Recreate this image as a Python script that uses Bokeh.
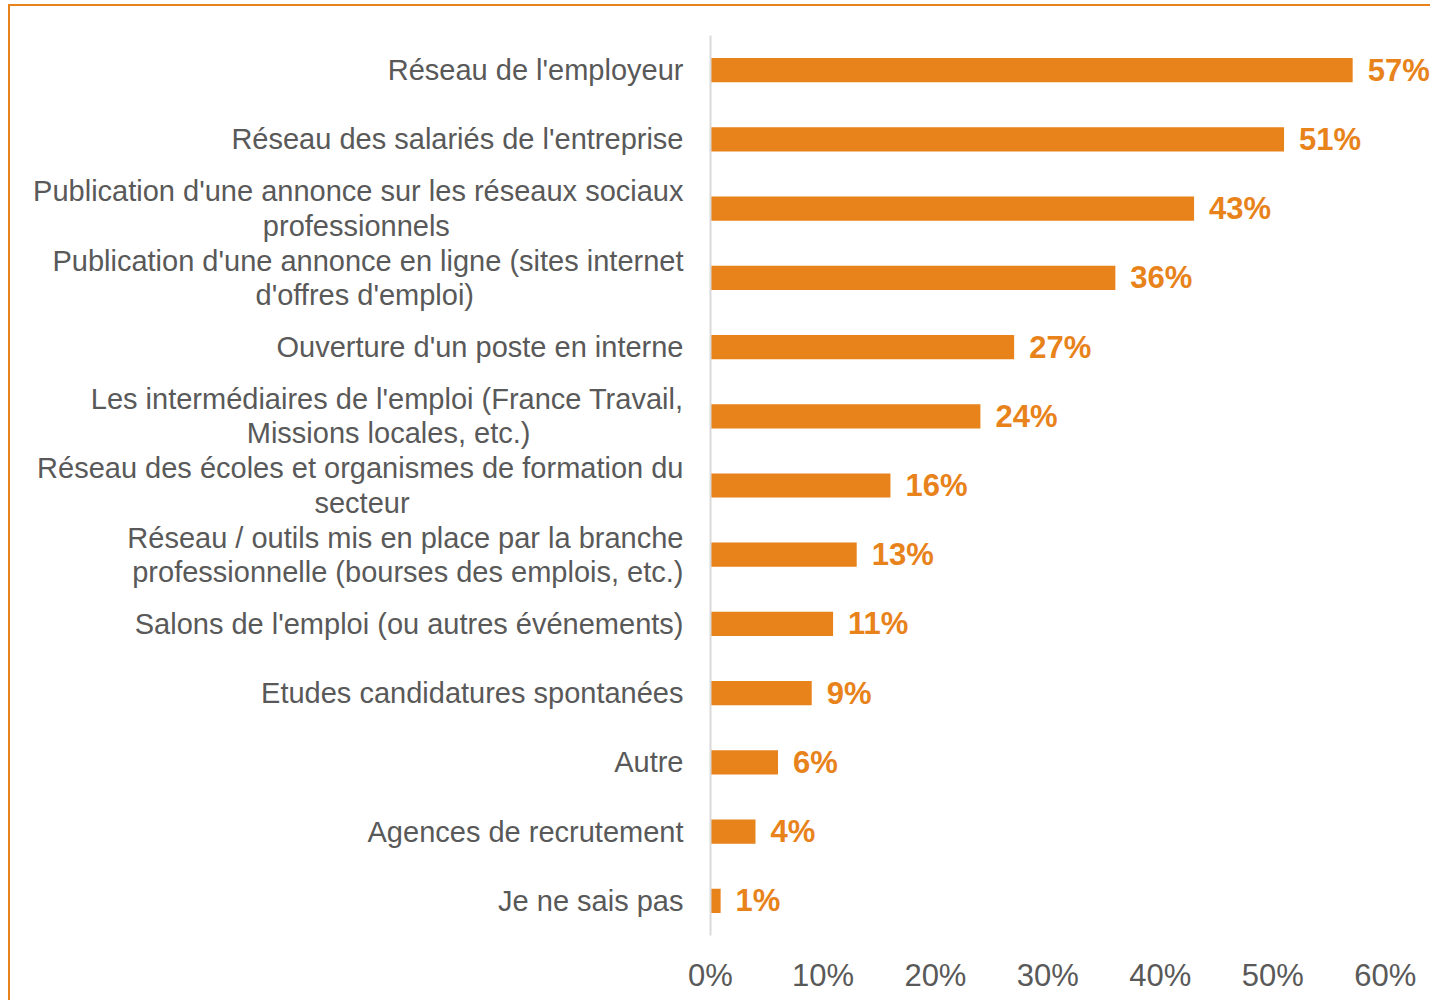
from bokeh.plotting import figure
from bokeh.models import ColumnDataSource, FixedTicker, FactorRange
from bokeh.core.properties import value
from bokeh.embed import file_html
from bokeh.resources import INLINE

categories = [
    "Réseau de l'employeur",
    "Réseau des salariés de l'entreprise",
    "Publication d'une annonce sur les réseaux sociaux\nprofessionnels",
    "Publication d'une annonce en ligne (sites internet\nd'offres d'emploi)",
    "Ouverture d'un poste en interne",
    "Les intermédiaires de l'emploi (France Travail,\nMissions locales, etc.)",
    "Réseau des écoles et organismes de formation du\nsecteur",
    "Réseau / outils mis en place par la branche\nprofessionnelle (bourses des emplois, etc.)",
    "Salons de l'emploi (ou autres événements)",
    "Etudes candidatures spontanées",
    "Autre",
    "Agences de recrutement",
    "Je ne sais pas",
]
values = [57.1, 51.0, 43.0, 36.0, 27.0, 24.0, 16.0, 13.0, 10.9, 9.0, 6.0, 4.0, 0.9]
value_labels = ["57%", "51%", "43%", "36%", "27%", "24%", "16%", "13%", "11%", "9%", "6%", "4%", "1%"]
x_ticks = [0, 10, 20, 30, 40, 50, 60]
x_tick_labels = ["0%", "10%", "20%", "30%", "40%", "50%", "60%"]

ORANGE = "#E8821A"
GRAY_TEXT = "#595959"
FONT = "Liberation Sans"

# styling only: non-breaking spaces appended to second lines so that they
# appear centred under the first line (as in the original)
second_line_pad = {2: 29, 3: 26, 5: 19, 6: 34, 7: 0}
display_cats = []
for i, c in enumerate(categories):
    if second_line_pad.get(i):
        a, b = c.split("\n")
        c = a + "\n" + b + "\u00a0" * second_line_pad[i]
    display_cats.append(c)

src = ColumnDataSource(dict(cat=display_cats, val=values, lab=value_labels))

p = figure(
    width=1422, height=996,
    y_range=FactorRange(factors=list(reversed(display_cats)), range_padding=0),
    x_range=(0, 64.2),
    output_backend="svg", toolbar_location=None,
    min_border_left=700, min_border_right=0, min_border_top=29, min_border_bottom=67,
)
p.styles = {"border-top": "2px solid " + ORANGE, "border-left": "2px solid " + ORANGE,
            "margin-top": "4px", "margin-left": "8px"}
p.outline_line_color = None
p.xgrid.grid_line_color = None
p.ygrid.grid_line_color = None

p.hbar(y="cat", right="val", left=0, height=0.35, source=src,
       fill_color=ORANGE, line_color=None)
p.text(x="val", y="cat", text="lab", source=src, x_offset=15,
       text_align="left", text_baseline="middle",
       text_font=value(FONT), text_font_size="31px", text_font_style="bold",
       text_color=ORANGE)

p.xaxis.ticker = FixedTicker(ticks=x_ticks)
p.xaxis.major_label_overrides = {t: l for t, l in zip(x_ticks, x_tick_labels)}
p.xaxis.axis_line_color = None
p.xaxis.major_tick_line_color = None
p.xaxis.minor_tick_line_color = None
p.xaxis.major_label_standoff = 16
p.xaxis.major_label_text_font = FONT
p.xaxis.major_label_text_font_size = "31px"
p.xaxis.major_label_text_color = GRAY_TEXT

p.yaxis.axis_line_color = "#D9D9D9"
p.yaxis.axis_line_width = 2
p.yaxis.major_tick_line_color = None
p.yaxis.minor_tick_line_color = None
p.yaxis.major_label_standoff = 21
p.yaxis.major_label_text_font = FONT
p.yaxis.major_label_text_font_size = "29px"
p.yaxis.major_label_text_line_height = 1.07
p.yaxis.major_label_text_color = GRAY_TEXT

open("out.html", "w").write(file_html(p, INLINE))
